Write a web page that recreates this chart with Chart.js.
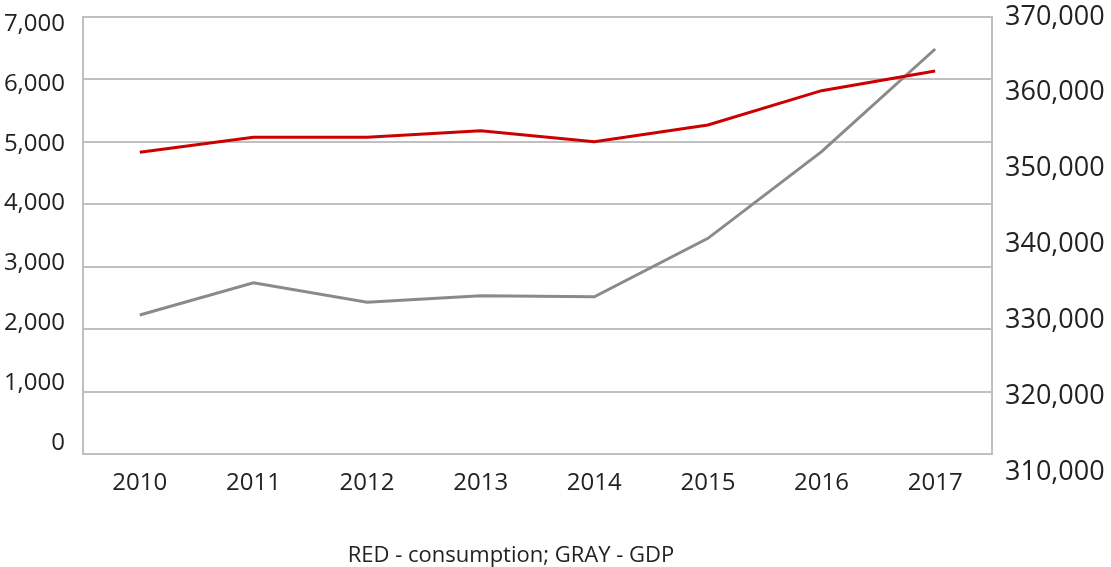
<!DOCTYPE html>
<html>
<head>
<meta charset="utf-8">
<script src="https://cdn.jsdelivr.net/npm/chart.js@4"></script>
<style>
  html, body { margin: 0; padding: 0; background: #fff; }
  #wrap { width: 1111px; height: 567px; }
</style>
</head>
<body>
<div id="wrap"><canvas id="chart" width="1111" height="567"></canvas></div>
<script>
// ---------- data ----------
const years = ["2010", "2011", "2012", "2013", "2014", "2015", "2016", "2017"];
const consumption = [4833, 5073, 5073, 5179, 5003, 5270, 5820, 6135];
const gdp = [330690, 334950, 332360, 333230, 333100, 340800, 352230, 365780];

const leftTicks = [0, 1000, 2000, 3000, 4000, 5000, 6000, 7000];
const rightTicks = [310000, 320000, 330000, 340000, 350000, 360000, 370000];
const caption = "RED - consumption; GRAY - GDP";

const gridColor = "#c0c0c0";
const textColor = "#222";
const fontFamily = "'Open Sans', 'Noto Sans', sans-serif";

const fmt = v => v.toLocaleString("en-US");

// caption under the chart
const captionPlugin = {
    id: "caption",
    afterDraw(chart) {
        const ctx = chart.ctx;
        ctx.save();
        ctx.font = "22px " + fontFamily;
        ctx.fillStyle = textColor;
        ctx.textAlign = "center";
        ctx.textBaseline = "middle";
        ctx.fillText(caption, 511, 556);
        ctx.restore();
    }
};

// fixed axis sizes, no extra label overflow padding
const fixSize = (w, h) => s => {
    if (w !== null) s.width = w;
    if (h !== null) s.height = h;
    s.paddingTop = 0;
    s.paddingBottom = 0;
    s.paddingLeft = 0;
    s.paddingRight = 0;
};

new Chart(document.getElementById("chart"), {
    type: "line",
    data: {
        labels: years,
        datasets: [
            {
                label: "consumption",
                data: consumption,
                yAxisID: "yc",
                borderColor: "#cc0000",
                borderWidth: 3,
                pointRadius: 0,
                tension: 0
            },
            {
                label: "GDP",
                data: gdp,
                yAxisID: "y1",
                borderColor: "#8a8a8a",
                borderWidth: 3,
                pointRadius: 0,
                tension: 0
            }
        ]
    },
    options: {
        responsive: false,
        animation: false,
        layout: { padding: { top: 17, left: 0, right: 0, bottom: 0 } },
        plugins: {
            legend: { display: false },
            tooltip: { enabled: false }
        },
        scales: {
            x: {
                offset: true,
                grid: { display: false },
                border: { display: true, color: gridColor, width: 2 },
                ticks: {
                    color: textColor,
                    font: { family: fontFamily, size: 24 },
                    padding: 7,
                    maxRotation: 0
                },
                afterFit: fixSize(null, 113)
            },
            // gridlines and consumption values
            yc: {
                position: "left",
                weight: 2,
                min: 0,
                max: 7000,
                afterBuildTicks: s => { s.ticks = leftTicks.map(v => ({ value: v })); },
                grid: { color: gridColor, lineWidth: 2, drawTicks: false },
                border: { display: false },
                ticks: { display: false },
                afterFit: fixSize(0, null)
            },
            // left tick labels (slightly offset in the original)
            y: {
                position: "left",
                weight: 1,
                min: -184,
                max: 7117,
                afterBuildTicks: s => { s.ticks = leftTicks.map(v => ({ value: v })); },
                grid: { display: false, drawTicks: false },
                border: { display: true, color: gridColor, width: 2 },
                ticks: {
                    color: textColor,
                    font: { family: fontFamily, size: 24 },
                    padding: 18,
                    autoSkip: false,
                    callback: v => fmt(v)
                },
                afterFit: fixSize(83, null)
            },
            y1: {
                position: "right",
                min: 312350,
                max: 370000,
                afterBuildTicks: s => { s.ticks = rightTicks.map(v => ({ value: v })); },
                grid: { display: false, drawTicks: false },
                border: { display: true, color: gridColor, width: 2 },
                ticks: {
                    color: textColor,
                    font: { family: fontFamily, size: 27 },
                    padding: 13,
                    autoSkip: false,
                    callback: v => fmt(v)
                },
                afterFit: fixSize(119, null)
            }
        }
    },
    plugins: [captionPlugin]
});
</script>
</body>
</html>
